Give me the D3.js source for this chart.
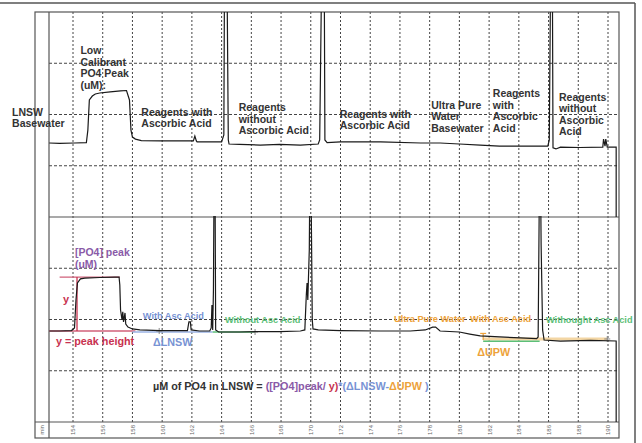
<!DOCTYPE html>
<html>
<head>
<meta charset="utf-8">
<script src="https://cdn.jsdelivr.net/npm/d3@7"></script>
<style>
  body { margin: 0; background: #fff; }
  svg { display: block; font-family: "Liberation Sans", Arial, sans-serif; }
</style>
</head>
<body>
<svg id="chart" width="642" height="443"></svg>
<script>
// time ticks along the bottom strip
const tickTimes = d3.range(154, 191, 2);

// upper trace: [time, signal]
const topTrace = [
  [152.4, 36.1], [153.1, 35.9], [154.1, 36.1], [154.9, 36.3], [155.0, 42.4], [155.1, 57.1],
  [155.3, 59.0], [155.5, 60.0], [155.8, 60.5], [156.5, 61.0], [157.2, 61.5], [157.6, 61.7],
  [157.8, 57.1], [157.9, 42.4], [158.0, 39.0], [158.2, 38.0], [158.6, 37.3], [159.9, 37.1],
  [161.9, 37.1], [162.1, 37.1], [162.2, 39.5], [162.3, 37.1], [162.35, 36.6], [163.6, 36.6],
  [164.0, 36.6], [164.15, 40.0], [164.2, 130], [164.35, 130], [164.45, 37.6], [164.5, 35.6],
  [165.2, 35.4], [166.6, 35.1], [167.9, 35.4], [169.3, 35.1], [170.5, 35.6], [170.6, 37.6],
  [170.75, 130], [170.9, 130], [170.95, 37.6], [171.1, 36.3], [172.0, 36.6], [174.7, 36.6],
  [177.4, 36.1], [178.7, 36.1], [180.0, 35.6], [181.4, 35.1], [182.7, 34.6], [184.1, 34.6],
  [185.95, 34.6], [186.05, 37.6], [186.15, 130], [186.25, 130], [186.3, 33.7], [186.5, 33.2],
  [186.8, 34.1], [188.1, 33.9], [189.65, 34.1], [189.7, 38.0], [189.8, 34.6], [189.85, 38.0],
  [189.95, 34.1], [190.55, 34.1], [190.55, 0]
];

// lower trace: [time, signal]
const bottomTrace = [
  [152.4, 44.4], [153.1, 44.4], [153.9, 44.6], [154.1, 45.9], [154.2, 59.5], [154.3, 67.8],
  [154.5, 69.8], [154.8, 70.2], [155.8, 70.5], [156.8, 70.7], [157.1, 70.7], [157.15, 66.8],
  [157.2, 54.6], [157.3, 49.8], [157.35, 53.7], [157.4, 48.8], [157.5, 53.2], [157.55, 47.8],
  [157.7, 46.3], [158.0, 45.4], [158.5, 44.9], [159.85, 44.6], [161.7, 44.6], [161.8, 48.8],
  [161.9, 48.8], [161.95, 44.9], [162.5, 44.4], [163.2, 44.4], [163.3, 45.9], [163.35, 57.1],
  [163.4, 44.9], [163.45, 64.4], [163.5, 130], [163.55, 130], [163.6, 44.9], [163.8, 43.9],
  [165.2, 43.9], [166.6, 44.1], [167.9, 44.1], [169.3, 44.4], [169.6, 44.9], [169.7, 62.0],
  [169.75, 67.8], [169.8, 59.5], [169.9, 83.9], [169.95, 130], [170.0, 130], [170.1, 49.8],
  [170.15, 45.4], [170.5, 44.9], [172.0, 44.6], [174.7, 44.4], [176.7, 44.4], [177.7, 44.9],
  [178.2, 46.3], [178.4, 46.3], [178.7, 44.4], [180.0, 43.9], [180.7, 42.9], [181.4, 42.0],
  [182.7, 41.5], [184.1, 41.0], [185.2, 40.7], [185.3, 41.5], [185.4, 130], [185.45, 130],
  [185.5, 86.3], [185.6, 44.9], [185.7, 40.0], [186.8, 39.5], [188.8, 39.8], [190.55, 39.5],
  [190.55, 0]
];

// upper panel labels: [time, signal, lines]
const topLabels = [
  [149.9, 49.3, ["LNSW", "Basewater"]],
  [154.5, 79.5, ["Low", "Calibrant", "PO4 Peak", "(uM):"]],
  [158.6, 49.3, ["Reagents with", "Ascorbic Acid"]],
  [165.15, 51.7, ["Reagents", "without", "Ascorbic Acid"]],
  [171.95, 48.3, ["Reagents with", "Ascorbic Acid"]],
  [178.1, 52.7, ["Ultra Pure", "Water", "Basewater"]],
  [182.25, 58.5, ["Reagents", "with", "Ascorbic", "Acid"]],
  [186.7, 56.6, ["Reagents", "without", "Ascorbic", "Acid"]]
];

const purple = "#8a5aa8", red = "#c8324f", blue = "#7893d4",
      green = "#5cbf78", orange = "#eda23a";

const svg = d3.select("#chart");
const L = 49, R = 619, T = 12, MID = 217, B = 422, AX = 438;

const x = d3.scaleLinear().domain([154, 190]).range([73, 608]);
const yTop = d3.scaleLinear().domain([0, 100]).range([MID, T]);
const yBot = d3.scaleLinear().domain([0, 100]).range([B, MID]);

// outer frame
svg.append("line").attr("x1", 0).attr("x2", 635).attr("y1", 3).attr("y2", 3)
  .attr("stroke", "#555").attr("stroke-width", 1.5);
svg.append("line").attr("x1", 635).attr("x2", 635).attr("y1", 3).attr("y2", 443)
  .attr("stroke", "#555").attr("stroke-width", 1.5);

// grid
const grid = svg.append("g").attr("stroke", "#444").attr("stroke-width", 1);
grid.selectAll(".v").data(tickTimes).join("line")
  .attr("x1", d => x(d)).attr("x2", d => x(d)).attr("y1", T).attr("y2", B)
  .attr("stroke-dasharray", "2,2");
[25, 50, 75].forEach(v => {
  grid.append("line").attr("x1", L).attr("x2", R).attr("y1", yTop(v)).attr("y2", yTop(v))
    .attr("stroke-dasharray", "3,2");
  grid.append("line").attr("x1", L).attr("x2", R).attr("y1", yBot(v)).attr("y2", yBot(v))
    .attr("stroke-dasharray", "3,2");
});

// frames
const frame = svg.append("g").attr("fill", "none").attr("stroke", "#555").attr("stroke-width", 1.2);
frame.append("rect").attr("x", 35).attr("y", T).attr("width", R - 35).attr("height", AX - T);
frame.append("line").attr("x1", L).attr("x2", L).attr("y1", T).attr("y2", AX);
frame.append("line").attr("x1", L).attr("x2", R).attr("y1", MID).attr("y2", MID);
frame.append("line").attr("x1", 35).attr("x2", R).attr("y1", B).attr("y2", B);

// axis strip
const axis = svg.append("g").attr("transform", `translate(0,${B})`)
  .call(d3.axisBottom(x).tickValues(tickTimes).tickSize(0));
axis.select(".domain").remove();
axis.selectAll("text")
  .attr("transform", "rotate(-90)").attr("x", -8).attr("y", 0).attr("dy", "0.32em")
  .style("text-anchor", "middle").attr("fill", "#666").attr("font-size", 6);
svg.append("text").attr("transform", `translate(42,430) rotate(-90)`)
  .attr("text-anchor", "middle").attr("dy", "0.32em").attr("font-size", 6).attr("fill", "#666")
  .text("min");

// clips
const defs = svg.append("defs");
defs.append("clipPath").attr("id", "cTop").append("rect")
  .attr("x", L).attr("y", T).attr("width", R - L).attr("height", MID - T);
defs.append("clipPath").attr("id", "cBot").append("rect")
  .attr("x", L).attr("y", MID - 1).attr("width", R - L).attr("height", B - MID + 1);

// traces
svg.append("path").datum(topTrace).attr("clip-path", "url(#cTop)")
  .attr("fill", "none").attr("stroke", "#1a1a1a").attr("stroke-width", 1.2)
  .attr("d", d3.line().x(d => x(d[0])).y(d => yTop(d[1])));

// bottom-panel reference lines (under trace)
const ref = svg.append("g");
const hline = (t0, t1, v, color, w) => ref.append("line")
  .attr("x1", x(t0)).attr("x2", x(t1)).attr("y1", yBot(v)).attr("y2", yBot(v))
  .attr("stroke", color).attr("stroke-width", w);
hline(152.4, 158.2, 44.4, "#d0607a", 1.5);
hline(153.1, 157.15, 70.7, "#d0607a", 1.2);
hline(158.0, 163.4, 43.9, "#9bb3e4", 1.5);
hline(163.4, 166.25, 43.9, green, 1.5);
hline(181.6, 189.95, 40.5, "#f3d6a4", 3);
hline(181.6, 185.4, 39.4, green, 1.3);
ref.append("line").attr("x1", x(154.27)).attr("x2", x(154.27))
  .attr("y1", yBot(70.7)).attr("y2", yBot(44.4)).attr("stroke", "#c8324f").attr("stroke-width", 1.3);
ref.append("line").attr("x1", x(181.6)).attr("x2", x(181.6))
  .attr("y1", yBot(43.2)).attr("y2", yBot(40.0)).attr("stroke", orange).attr("stroke-width", 1.2);
ref.append("line").attr("x1", x(181.6) - 3).attr("x2", x(181.6) + 3)
  .attr("y1", yBot(43.2)).attr("y2", yBot(43.2)).attr("stroke", orange).attr("stroke-width", 1.2);
[[159.8, 44.4], [166.25, 43.9], [189.95, 40.5]].forEach(([t, v]) => {
  ref.append("path").attr("d", `M${x(t) - 3},${yBot(v)}h6M${x(t)},${yBot(v) - 3}v6`)
    .attr("stroke", "#888").attr("stroke-width", 1);
});

svg.append("path").datum(bottomTrace).attr("clip-path", "url(#cBot)")
  .attr("fill", "none").attr("stroke", "#1a1a1a").attr("stroke-width", 1.2)
  .attr("d", d3.line().x(d => x(d[0])).y(d => yBot(d[1])));

// upper labels
const lab = svg.append("g").attr("font-size", 10.5).attr("font-weight", "bold").attr("fill", "#333");
topLabels.forEach(([t, v, lines]) => {
  const tx = lab.append("text").attr("x", x(t)).attr("y", yTop(v));
  lines.forEach((s, i) => tx.append("tspan").attr("x", x(t)).attr("dy", i ? 11.5 : 0).text(s));
});

// lower annotations
const ann = svg.append("g").attr("font-weight", "bold");
const note = (t, v, s, color, size) => ann.append("text")
  .attr("x", x(t)).attr("y", yBot(v)).attr("fill", color).attr("font-size", size).text(s);
note(154.13, 80.8, "[PO4] peak", purple, 10.5);
note(154.13, 75.0, "(uM)", purple, 10.5);
note(153.33, 58.0, "y", red, 11);
note(152.85, 37.6, "y = peak height", red, 10.8);
note(158.7, 50.2, "With Asc Acid", blue, 9.2);
note(159.38, 37.1, "ΔLNSW", blue, 10.8);
note(164.23, 48.3, "Without Asc Acid", green, 9.2);
note(175.6, 48.8, "Ultra Pure Water", orange, 9.2);
note(180.72, 48.8, "With Asc Acid", orange, 9.2);
note(185.83, 48.3, "Withought Asc Acid", green, 9.2);
note(181.2, 32.2, "ΔUPW", orange, 10.8);

const f = ann.append("text").attr("x", x(159.38)).attr("y", yBot(15.6)).attr("font-size", 10.8);
[["µM of PO4 in LNSW = ", "#333"], ["([PO4]peak/ ", purple], ["y)", red], ["*(", blue],
 ["ΔLNSW-", blue], ["ΔUPW", orange], [" )", blue]]
  .forEach(([s, c]) => f.append("tspan").attr("fill", c).text(s));
</script>
</body>
</html>
